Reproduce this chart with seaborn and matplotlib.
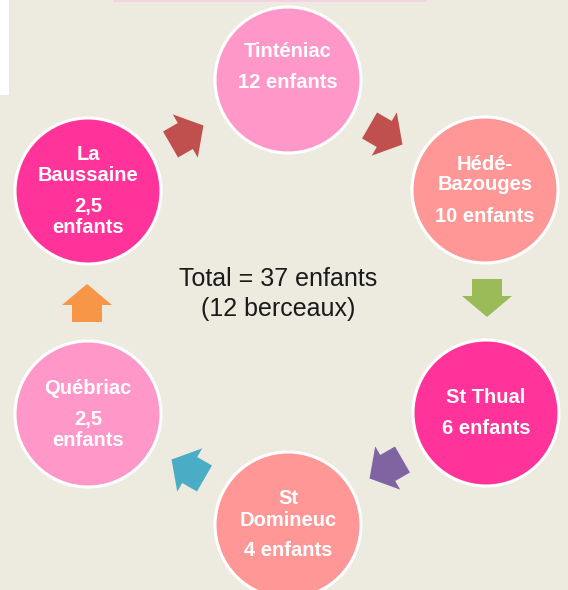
import numpy as np
import pandas as pd
import seaborn as sns
import matplotlib.pyplot as plt
from matplotlib import font_manager
from matplotlib.patches import Polygon, Rectangle

# Nodes of the cycle, clockwise from the top
communes = ['Tinténiac', 'Hédé-\nBazouges', 'St Thual', 'St\nDomineuc', 'Québriac', 'La\nBaussaine']
enfants = [12, 10, 6, 4, 2.5, 2.5]
berceaux = 12
node_colors = ['#FF97C9', '#FF9797', '#FF3399', '#FF9797', '#FF97C9', '#FF3399']
arrow_colors = ['#C0504D', '#9BBB59', '#8064A2', '#4BACC6', '#F79646', '#C0504D']

# layout in pixels (figure is 568 x 590)
node_x = [288, 485, 486, 288, 88, 88]
node_y = [80, 190, 413, 525, 414, 191]
text_shift = [-13, 0, 0, 0, 0, 0]
arrow_x = [386, 487, 386, 188, 87, 187]
arrow_y = [135, 298, 469, 469, 303, 135]
arrow_ang = [-30, -90, -150, 150, 90, 30]

sns.set_theme(style='white')
avail = {f.name for f in font_manager.fontManager.ttflist}
node_font = 'Liberation Sans Narrow' if 'Liberation Sans Narrow' in avail else 'Liberation Sans'
plt.rcParams['font.family'] = ['Liberation Sans', 'DejaVu Sans']

bg = '#EDEAE0'
fig = plt.figure(figsize=(5.68, 5.90), dpi=100, facecolor=bg)
ax = fig.add_axes([0, 0, 1, 1])
ax.set_facecolor(bg)
ax.set_xlim(0, 568)
ax.set_ylim(590, 0)
ax.axis('off')

# screenshot leftovers
ax.add_patch(Rectangle((0, 0), 9, 95, facecolor='white', edgecolor='none'))
ax.add_patch(Rectangle((113, 0), 314, 2, facecolor='#F6D3E3', edgecolor='none'))


def fmt(v):
    if float(v).is_integer():
        return f'{int(v)} enfants'
    return str(v).replace('.', ',') + '\nenfants'


df = pd.DataFrame({'commune': communes, 'enfants': enfants,
                   'x': node_x, 'y': node_y, 'color': node_colors})

# circles: 146 px diameter -> points
diam_pt = 146 * 72 / 100
sns.scatterplot(data=df, x='x', y='y', hue='commune',
                palette=dict(zip(df.commune, df.color)),
                s=diam_pt ** 2, edgecolor='white', linewidth=2.2,
                legend=False, ax=ax, zorder=3)
ax.set_xlim(0, 568)
ax.set_ylim(590, 0)

# labels inside circles
for i, row in df.iterrows():
    paras = [row.commune.split('\n'), fmt(row.enfants).split('\n')]
    offs, pos, first = [], 0, True
    lines = []
    for p in paras:
        for j, ln in enumerate(p):
            if not first:
                pos += 21 if j > 0 else 31
            first = False
            offs.append(pos)
            lines.append(ln)
    mid = (offs[0] + offs[-1]) / 2
    for ln, o in zip(lines, offs):
        ax.text(row.x, row.y + text_shift[i] + o - mid, ln, color='white',
                fontsize=14.5, fontweight='bold', family=[node_font, 'DejaVu Sans'],
                ha='center', va='center', zorder=5)


# block arrows between circles
def block_arrow(cx, cy, ang, color, L=38, W=50, sw=30, hl=21):
    pts = np.array([(-L / 2, -sw / 2), (L / 2 - hl, -sw / 2), (L / 2 - hl, -W / 2),
                    (L / 2, 0), (L / 2 - hl, W / 2), (L / 2 - hl, sw / 2), (-L / 2, sw / 2)])
    a = np.deg2rad(ang)
    xs = cx + pts[:, 0] * np.cos(a) - pts[:, 1] * np.sin(a)
    ys = cy - (pts[:, 0] * np.sin(a) + pts[:, 1] * np.cos(a))
    ax.add_patch(Polygon(np.column_stack([xs, ys]), closed=True,
                         facecolor=color, edgecolor='none', zorder=4))


for cx, cy, ang, c in zip(arrow_x, arrow_y, arrow_ang, arrow_colors):
    block_arrow(cx, cy, ang, c)

# total in the middle
total = sum(enfants)
total_txt = f'{total:g}'.replace('.', ',')
ax.text(278, 279, f'Total = {total_txt} enfants', fontsize=18, color='#1A1A1A',
        ha='center', va='center')
ax.text(278, 309, f'({berceaux} berceaux)', fontsize=18, color='#1A1A1A',
        ha='center', va='center')

fig.savefig('out.png', dpi=100, facecolor=bg)
